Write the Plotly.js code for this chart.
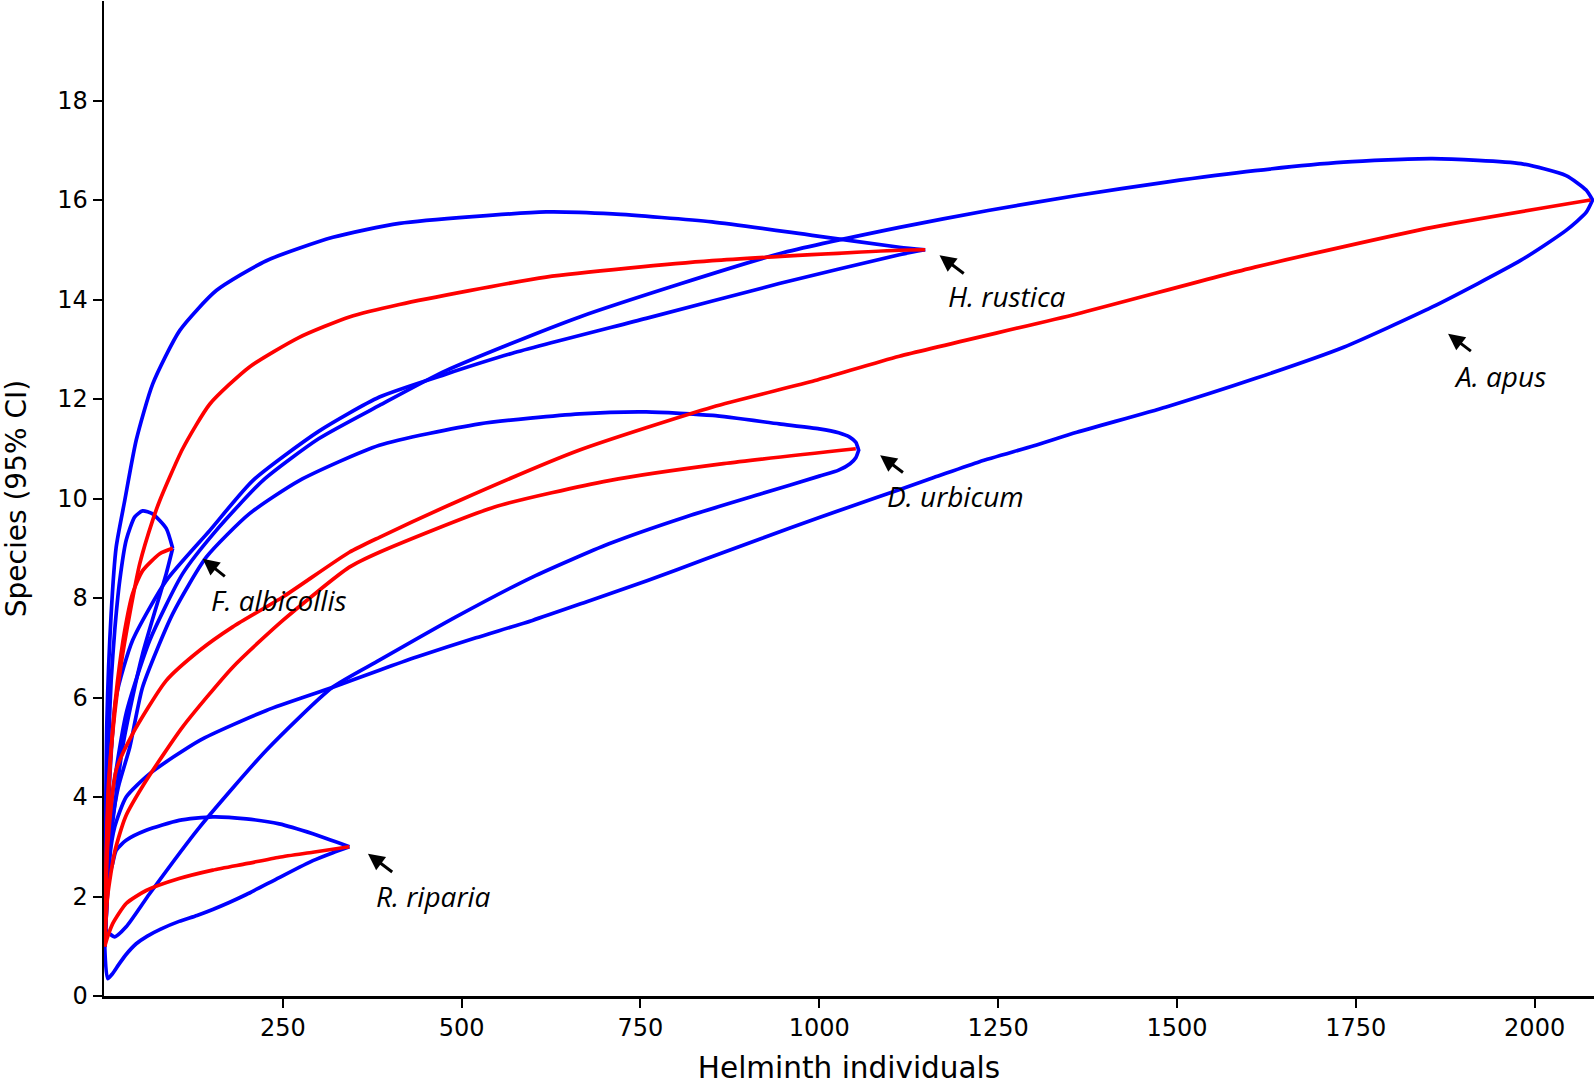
<!DOCTYPE html>
<html>
<head>
<meta charset="utf-8">
<script src="https://cdn.plot.ly/plotly-3.0.1.min.js"></script>
<style>
  html, body { margin: 0; padding: 0; background: #fff; }
  #chart { width: 1594px; height: 1085px; }
</style>
</head>
<body>
<div id="chart"></div>
<script>
// ---------- data ----------
// R. riparia
const ripMeanX  = [1, 5, 12, 31, 59, 105, 152, 199, 245, 292, 343];
const ripMeanY  = [1, 1.19, 1.45, 1.86, 2.12, 2.36, 2.53, 2.66, 2.79, 2.89, 3.0];
const ripUpX    = [1, 5, 12, 17, 31, 59, 105, 152, 199, 245, 292, 343];
const ripUpY    = [1, 2.26, 2.66, 2.93, 3.13, 3.33, 3.53, 3.6, 3.56, 3.46, 3.26, 3.0];
const ripLoX    = [1, 5, 12, 20, 30, 45, 60, 80, 105, 130, 152, 175, 199, 245, 292, 320, 343];
const ripLoY    = [1, 0.35, 0.45, 0.62, 0.82, 1.05, 1.2, 1.35, 1.5, 1.62, 1.74, 1.88, 2.04, 2.38, 2.72, 2.88, 3.0];

// F. albicollis
const albMeanX  = [1, 5, 12, 19, 29, 40, 54, 78, 96];
const albMeanY  = [1, 3.6, 5.34, 6.34, 7.35, 8.09, 8.55, 8.89, 9.0];
const albUpX    = [1, 4, 7, 10, 15, 22, 31, 43, 54, 68, 87, 96];
const albUpY    = [1, 4.3, 5.34, 6.34, 7.35, 8.35, 9.16, 9.63, 9.75, 9.69, 9.4, 9.0];
const albLoX    = [1, 10, 26, 40, 54, 73, 87, 96];
const albLoY    = [1, 3.2, 5.0, 6.01, 6.88, 7.82, 8.49, 9.0];

// H. rustica
const rusMeanX  = [1, 6, 15, 24, 36, 50, 68, 78, 110, 148, 203, 273, 343, 413, 618, 850, 1112, 1148];
const rusMeanY  = [1, 4.2, 5.68, 6.68, 7.68, 8.69, 9.56, 9.96, 11.0, 11.9, 12.64, 13.24, 13.65, 13.9, 14.45, 14.78, 14.99, 15.0];
const rusUpX    = [1, 4, 10, 17, 29, 45, 68, 106, 157, 227, 320, 413, 618, 711, 850, 990, 1112, 1148];
const rusUpY    = [1, 5.5, 7.68, 9.02, 9.96, 11.17, 12.3, 13.38, 14.18, 14.78, 15.25, 15.53, 15.76, 15.72, 15.56, 15.29, 15.05, 15.0];
const rusLoX    = [1, 6, 17, 40, 87, 148, 208, 300, 385, 478, 571, 758, 944, 1112, 1148];
const rusLoY    = [1, 3.8, 6.01, 7.15, 8.35, 9.36, 10.36, 11.35, 12.04, 12.5, 12.92, 13.62, 14.32, 14.9, 15.0];

// D. urbicum
const urbMeanX  = [1, 5, 15, 30, 59, 110, 180, 250, 343, 385, 546, 706, 866, 1051];
const urbMeanY  = [1, 2.0, 2.9, 3.6, 4.33, 5.41, 6.61, 7.55, 8.62, 8.92, 9.83, 10.36, 10.7, 11.0];
const urbUpX    = [1, 8, 20, 36, 54, 96, 143, 203, 273, 385, 525, 665, 758, 851, 944, 1000, 1027, 1043, 1051, 1055];
const urbUpY    = [1, 3.2, 4.2, 5.0, 6.21, 7.68, 8.82, 9.69, 10.36, 11.07, 11.5, 11.7, 11.74, 11.67, 11.5, 11.4, 11.32, 11.23, 11.13, 10.97];
const urbLoX    = [1055, 1051, 1043, 1027, 1000, 920, 813, 706, 599, 492, 385, 319, 227, 134, 64, 31, 15, 8, 3, 1];
const urbLoY    = [10.97, 10.82, 10.7, 10.57, 10.45, 10.1, 9.63, 9.09, 8.42, 7.62, 6.75, 6.2, 4.94, 3.4, 2.06, 1.39, 1.19, 1.25, 1.32, 1];

// A. apus
const apuMeanX  = [1, 5, 17, 40, 87, 134, 180, 250, 343, 385, 497, 664, 851, 994, 1112, 1360, 1609, 1857, 2078];
const apuMeanY  = [1, 3.0, 4.54, 5.27, 6.34, 6.95, 7.42, 8.02, 8.92, 9.22, 9.96, 10.97, 11.84, 12.37, 12.86, 13.71, 14.65, 15.45, 16.0];
const apuUpX    = [1, 8, 31, 64, 110, 157, 222, 300, 385, 478, 665, 944, 1112, 1236, 1360, 1485, 1609, 1733, 1857, 1981, 2044, 2072, 2081];
const apuUpY    = [1, 3.6, 5.68, 7.15, 8.49, 9.36, 10.36, 11.2, 11.87, 12.57, 13.65, 14.92, 15.45, 15.79, 16.09, 16.36, 16.59, 16.76, 16.83, 16.73, 16.49, 16.2, 16.0];
const apuLoX    = [2081, 2072, 2044, 1981, 1857, 1733, 1609, 1485, 1360, 1300, 1224, 1160, 1080, 1000, 920, 840, 760, 680, 599, 520, 438, 385, 319, 227, 134, 64, 31, 15, 8, 1];
const apuLoY    = [16.0, 15.75, 15.39, 14.79, 13.85, 13.04, 12.41, 11.84, 11.33, 11.06, 10.74, 10.42, 10.02, 9.62, 9.2, 8.78, 8.35, 7.95, 7.55, 7.2, 6.82, 6.55, 6.2, 5.74, 5.14, 4.47, 4.0, 3.4, 2.79, 1];

// axis ticks and labels
const xTicks = [250, 500, 750, 1000, 1250, 1500, 1750, 2000];
const yTicks = [0, 2, 4, 6, 8, 10, 12, 14, 16, 18];

const labels = [
  {text: 'H. rustica',    x: 1262, y: 14.08, hx: 1168, hy: 14.89, tx: 1204, ty: 14.5},
  {text: 'A. apus',       x: 1952, y: 12.47, hx: 1879, hy: 13.31, tx: 1913, ty: 12.94},
  {text: 'D. urbicum',    x: 1191, y: 10.06, hx: 1085, hy: 10.87, tx: 1119, ty: 10.5},
  {text: 'F. albicollis', x: 244,  y: 7.95,  hx: 138,  hy: 8.79,  tx: 171,  ty: 8.41},
  {text: 'R. riparia',    x: 460,  y: 2.02,  hx: 369,  hy: 2.86,  tx: 405,  ty: 2.47}
];

// ---------- build traces ----------
const BLUE = '#0000ff', RED = '#ff0000';
function line(x, y, color) {
  return {x: x, y: y, type: 'scatter', mode: 'lines',
          line: {color: color, width: 3.7, shape: 'spline', smoothing: 0.6},
          hoverinfo: 'skip', showlegend: false};
}
function loop(ux, uy, lx, ly) {
  return line(ux.concat(lx), uy.concat(ly), BLUE);
}
const traces = [
  line(ripUpX, ripUpY, BLUE), line(ripLoX, ripLoY, BLUE),
  line(albUpX, albUpY, BLUE), line(albLoX, albLoY, BLUE),
  line(rusUpX, rusUpY, BLUE), line(rusLoX, rusLoY, BLUE),
  loop(urbUpX, urbUpY, urbLoX, urbLoY),
  loop(apuUpX, apuUpY, apuLoX, apuLoY),
  line(ripMeanX, ripMeanY, RED),
  line(albMeanX, albMeanY, RED),
  line(rusMeanX, rusMeanY, RED),
  line(urbMeanX, urbMeanY, RED),
  line(apuMeanX, apuMeanY, RED)
];

const annotations = [];
labels.forEach(function (l) {
  annotations.push({x: l.x, y: l.y, xref: 'x', yref: 'y', text: '<i>' + l.text + '</i>',
    showarrow: false, font: {family: '"Open Sans", Lato, sans-serif', size: 28, color: '#000'}});
  annotations.push({x: l.hx, y: l.hy, ax: l.tx, ay: l.ty, xref: 'x', yref: 'y', axref: 'x', ayref: 'y',
    text: '', showarrow: true, arrowhead: 2, arrowsize: 1.1, arrowwidth: 3, arrowcolor: '#000'});
});

const axisFont = {family: '"DejaVu Sans", "Liberation Sans", sans-serif', size: 24, color: '#000'};
const layout = {
  width: 1594, height: 1085,
  margin: {l: 104, r: 0, t: 1, b: 89},
  paper_bgcolor: '#fff', plot_bgcolor: '#fff',
  showlegend: false,
  xaxis: {
    range: [0, 2083], tickvals: xTicks, ticktext: xTicks.map(String),
    ticks: 'outside', ticklen: 9, tickwidth: 2, tickcolor: '#000',
    showline: true, linewidth: 2.5, linecolor: '#000',
    showgrid: false, zeroline: false, tickfont: axisFont,
    title: {text: 'Helminth individuals', font: {family: axisFont.family, size: 29.5, color: '#000'}, standoff: 19}
  },
  yaxis: {
    range: [0, 20], tickvals: yTicks, ticktext: yTicks.map(String),
    ticks: 'outside', ticklen: 9, tickwidth: 2, tickcolor: '#000',
    showline: true, linewidth: 2.5, linecolor: '#000',
    showgrid: false, zeroline: false, tickfont: axisFont,
    title: {text: 'Species (95% CI)', font: {family: axisFont.family, size: 28, color: '#000'}, standoff: 24}
  },
  annotations: annotations
};

Plotly.newPlot('chart', traces, layout, {staticPlot: true});
</script>
</body>
</html>
